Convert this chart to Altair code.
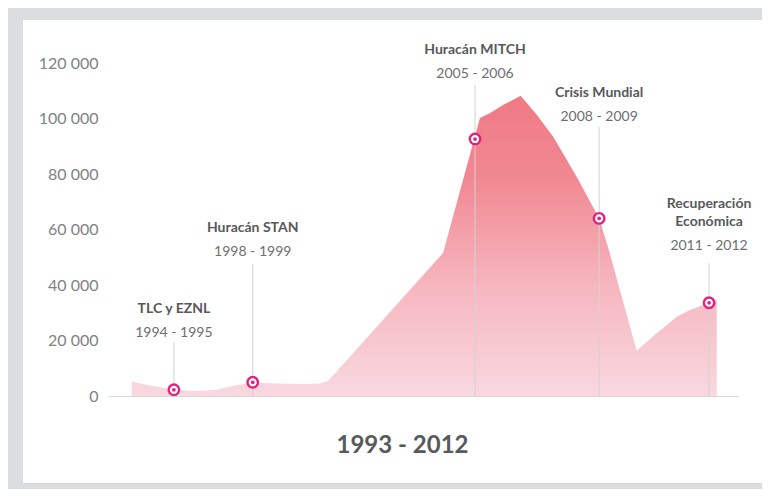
import altair as alt
import pandas as pd

# Area outline (position along the 1993-2012 timeline, value)
pos = [1993.00, 1993.59, 1994.37, 1995.06, 1995.71, 1996.35, 1996.93, 1997.65,
       1998.63, 1999.12, 1999.38, 2003.11, 2004.31, 2004.64, 2005.06, 2005.63,
       2006.16, 2006.69, 2007.45, 2008.18, 2008.48, 2009.40, 2010.05, 2010.70,
       2011.13, 2011.76, 2012.00]
values = [5150, 3780, 2230, 1800, 2160, 3780, 4860, 4500,
          4320, 4500, 5400, 51530, 100180, 101980, 104860, 108220,
          101260, 93440, 79030, 64040, 53230, 16320, 22590, 28580,
          30990, 33620, 34590]

# Annotations
ann_pos = [1994.37, 1996.93, 2004.15, 2008.18, 2011.75]
ann_value = [2230, 4940, 92600, 64000, 33600]
ann_title_top = ["", "", "", "", "Recuperación"]
ann_title = ["TLC y EZNL", "Huracán STAN", "Huracán MITCH", "Crisis Mundial", "Económica"]
ann_years = ["1994 - 1995", "1998 - 1999", "2005 - 2006", "2008 - 2009", "2011 - 2012"]
ann_label_level = [22700, 51900, 116000, 100500, 54000]
ann_rule_top = [19460, 47570, 112070, 96930, 47930]

y_ticks = [0, 20000, 40000, 60000, 80000, 100000, 120000]
x_title = "1993 - 2012"

area_df = pd.DataFrame({"pos": pos, "value": values})
ann_df = pd.DataFrame({
    "pos": ann_pos, "value": ann_value, "title": ann_title, "title_top": ann_title_top,
    "years": ann_years, "level": ann_label_level, "rule_top": ann_rule_top,
    "base": [0] * len(ann_pos),
})

W, H = 630, 333
xscale = alt.Scale(domain=[1992.23, 2012.69], nice=False, zero=False)
yscale = alt.Scale(domain=[0, 120000], nice=False)

panel = alt.Chart(alt.Data(values=[{"a": 1}])).mark_rect(color="white").encode(
    x=alt.value(-85), x2=alt.value(700), y=alt.value(-43), y2=alt.value(420)
)

area = alt.Chart(area_df).mark_area(
    interpolate="linear",
    color=alt.Gradient(
        gradient="linear",
        stops=[
            alt.GradientStop(color="#f9d8e0", offset=0),
            alt.GradientStop(color="#f6b8c1", offset=0.35),
            alt.GradientStop(color="#f18992", offset=0.72),
            alt.GradientStop(color="#ef7a84", offset=1),
        ],
        x1=0, x2=0, y1=1, y2=0,
    ),
).encode(
    x=alt.X("pos:Q", scale=xscale,
            axis=alt.Axis(labels=False, ticks=False, grid=False, domain=True,
                          domainColor="#d9d9d9", title=x_title, zindex=1,
                          titleFont="Lato", titleFontSize=24, titleFontWeight="bold",
                          titleColor="#58595b", titleX=294, titleY=49,
                          titleAlign="center", titleBaseline="middle")),
    y=alt.Y("value:Q", scale=yscale,
            axis=alt.Axis(values=y_ticks, domain=False, ticks=False, grid=False,
                          labelFont="Lato", labelFontSize=16, labelColor="#808285",
                          labelPadding=10, title=None, zindex=1,
                          labelExpr="replace(format(datum.value, ',d'), ',', ' ')")),
)

rules = alt.Chart(ann_df).mark_rule(color="#d3d3d3", strokeWidth=1).encode(
    x=alt.X("pos:Q", scale=xscale), y=alt.Y("rule_top:Q", scale=yscale), y2="base:Q"
)

rings = alt.Chart(ann_df).mark_circle(
    size=110, color="white", stroke="#e0237e", strokeWidth=2.4, opacity=1
).encode(x=alt.X("pos:Q", scale=xscale), y=alt.Y("value:Q", scale=yscale))

dots = alt.Chart(ann_df).mark_circle(size=14, color="#e0237e", opacity=1).encode(
    x=alt.X("pos:Q", scale=xscale), y=alt.Y("value:Q", scale=yscale)
)

years_txt = alt.Chart(ann_df).mark_text(
    font="Lato", fontSize=14, color="#6d6e71", align="center", baseline="middle"
).encode(x=alt.X("pos:Q", scale=xscale), y=alt.Y("level:Q", scale=yscale), text="years:N")

titles_txt = alt.Chart(ann_df).mark_text(
    font="Lato", fontSize=14, fontWeight="bold", color="#58595b", align="center",
    baseline="bottom", dy=-17
).encode(x=alt.X("pos:Q", scale=xscale), y=alt.Y("level:Q", scale=yscale), text="title:N")

titles_top_txt = alt.Chart(ann_df).mark_text(
    font="Lato", fontSize=14, fontWeight="bold", color="#58595b", align="center",
    baseline="bottom", dy=-35
).encode(x=alt.X("pos:Q", scale=xscale), y=alt.Y("level:Q", scale=yscale), text="title_top:N")

chart = alt.layer(panel, area, rules, rings, dots, years_txt, titles_txt, titles_top_txt).properties(
    width=W, height=H,
    padding={"left": 100, "top": 55, "right": 24, "bottom": 93},
    autosize=alt.AutoSizeParams(type="none"),
    background="#dcdddf",
).configure_view(stroke=None)

chart.save("out.html", embed_options={"renderer": "svg", "actions": False})
